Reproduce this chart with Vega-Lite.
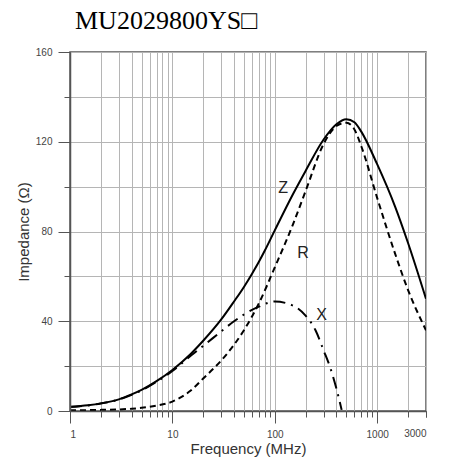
{
  "$schema": "https://vega.github.io/schema/vega-lite/v6.json",
  "width": 356,
  "height": 359,
  "autosize": "none",
  "padding": {"left": 70, "top": 52, "right": 23, "bottom": 52},
  "background": "white",
  "title": {"text": "MU2029800YS□", "font": "Liberation Serif", "fontSize": 26, "fontWeight": "normal", "color": "black", "anchor": "start", "dx": 5, "offset": 13, "frame": "group"},
  "config": {"view": {"stroke": "#555", "strokeWidth": 1.5}},
  "datasets": {
    "curves": [
      {"f": 1, "v": 1.9, "s": "Z"}, {"f": 1.5, "v": 2.6, "s": "Z"}, {"f": 2, "v": 3.4, "s": "Z"}, {"f": 3, "v": 5.2, "s": "Z"}, {"f": 4, "v": 7.4, "s": "Z"}, {"f": 5, "v": 9.4, "s": "Z"}, {"f": 7, "v": 13.3, "s": "Z"}, {"f": 10, "v": 18.3, "s": "Z"}, {"f": 15, "v": 25.3, "s": "Z"}, {"f": 20, "v": 31.3, "s": "Z"}, {"f": 30, "v": 40.8, "s": "Z"}, {"f": 40, "v": 48.8, "s": "Z"}, {"f": 50, "v": 55.3, "s": "Z"}, {"f": 60, "v": 61.2, "s": "Z"}, {"f": 70, "v": 66.5, "s": "Z"}, {"f": 80, "v": 71.5, "s": "Z"}, {"f": 100, "v": 80.5, "s": "Z"}, {"f": 150, "v": 96.5, "s": "Z"}, {"f": 200, "v": 107, "s": "Z"}, {"f": 300, "v": 121, "s": "Z"}, {"f": 400, "v": 127.8, "s": "Z"}, {"f": 500, "v": 130, "s": "Z"}, {"f": 600, "v": 128.7, "s": "Z"}, {"f": 700, "v": 124.5, "s": "Z"}, {"f": 1000, "v": 110, "s": "Z"}, {"f": 1500, "v": 91, "s": "Z"}, {"f": 2000, "v": 75, "s": "Z"}, {"f": 3000, "v": 50, "s": "Z"},
      {"f": 1, "v": 0.3, "s": "R"}, {"f": 2, "v": 0.5, "s": "R"}, {"f": 3, "v": 0.7, "s": "R"}, {"f": 4, "v": 1.0, "s": "R"}, {"f": 5, "v": 1.4, "s": "R"}, {"f": 7, "v": 2.4, "s": "R"}, {"f": 10, "v": 4.2, "s": "R"}, {"f": 15, "v": 9.0, "s": "R"}, {"f": 20, "v": 14.5, "s": "R"}, {"f": 30, "v": 22.5, "s": "R"}, {"f": 40, "v": 29.5, "s": "R"}, {"f": 50, "v": 36, "s": "R"}, {"f": 70, "v": 48, "s": "R"}, {"f": 100, "v": 64, "s": "R"}, {"f": 150, "v": 83, "s": "R"}, {"f": 200, "v": 98, "s": "R"}, {"f": 300, "v": 119, "s": "R"}, {"f": 400, "v": 127, "s": "R"}, {"f": 500, "v": 128.5, "s": "R"}, {"f": 600, "v": 125.5, "s": "R"}, {"f": 700, "v": 118, "s": "R"}, {"f": 1000, "v": 95, "s": "R"}, {"f": 1500, "v": 70, "s": "R"}, {"f": 2000, "v": 54, "s": "R"}, {"f": 3000, "v": 36, "s": "R"},
      {"f": 1, "v": 1.8, "s": "X"}, {"f": 1.5, "v": 2.5, "s": "X"}, {"f": 2, "v": 3.3, "s": "X"}, {"f": 3, "v": 5.1, "s": "X"}, {"f": 4, "v": 7.2, "s": "X"}, {"f": 5, "v": 9.2, "s": "X"}, {"f": 7, "v": 13, "s": "X"}, {"f": 10, "v": 17.8, "s": "X"}, {"f": 15, "v": 24.5, "s": "X"}, {"f": 20, "v": 29, "s": "X"}, {"f": 30, "v": 35.5, "s": "X"}, {"f": 40, "v": 40, "s": "X"}, {"f": 50, "v": 43, "s": "X"}, {"f": 70, "v": 46.5, "s": "X"}, {"f": 100, "v": 48.8, "s": "X"}, {"f": 150, "v": 47, "s": "X"}, {"f": 200, "v": 42.5, "s": "X"}, {"f": 250, "v": 36, "s": "X"}, {"f": 300, "v": 27, "s": "X"}, {"f": 350, "v": 19, "s": "X"}, {"f": 400, "v": 10, "s": "X"}, {"f": 450, "v": 0.5, "s": "X"}
    ],
    "labels": [
      {"f": 120.6, "v": 99.5, "t": "Z"},
      {"f": 189, "v": 70.3, "t": "R"},
      {"f": 287, "v": 42.8, "t": "X"}
    ]
  },
  "resolve": {"axis": {"x": "independent", "y": "independent"}},
  "layer": [
    {
      "data": {"name": "curves"},
      "transform": [{"filter": "datum.s == 'Z'"}],
      "mark": {"type": "line", "color": "black", "strokeWidth": 2, "interpolate": "monotone", "clip": true},
      "encoding": {
        "x": {"field": "f", "type": "quantitative", "scale": {"type": "log", "domain": [1, 3000], "nice": false},
          "axis": {"orient": "bottom", "values": [1, 2, 3, 4, 5, 6, 7, 8, 9, 10, 20, 30, 40, 50, 60, 70, 80, 90, 100, 200, 300, 400, 500, 600, 700, 800, 900, 1000, 2000, 3000],
            "grid": true, "gridColor": "#b5b5b5", "gridWidth": 1, "tickSize": 6, "tickColor": "#555", "labels": false, "domain": false, "title": null, "zindex": 0}},
        "y": {"field": "v", "type": "quantitative", "scale": {"domain": [0, 160], "nice": false},
          "axis": {"orient": "left", "values": [0, 20, 40, 60, 80, 100, 120, 140, 160], "grid": true, "gridColor": "#b5b5b5", "gridWidth": 1, "tickSize": 6, "tickColor": "#555", "labels": false, "domain": false, "title": null, "zindex": 0}}
      }
    },
    {
      "data": {"name": "curves"},
      "transform": [{"filter": "datum.s == 'R'"}],
      "mark": {"type": "line", "color": "black", "strokeWidth": 2, "strokeDash": [6, 4], "interpolate": "monotone", "clip": true},
      "encoding": {
        "x": {"field": "f", "type": "quantitative",
          "axis": {"orient": "bottom", "values": [1, 10, 100, 1000, 3000], "format": "d", "grid": false,
            "tickSize": {"condition": {"test": "datum.value == 3000", "value": 6}, "value": 12},
            "labelPadding": {"condition": {"test": "datum.value == 3000", "value": 11}, "value": 6},
            "tickColor": "#555", "domainColor": "#555", "domainWidth": 1.5, "labelFont": "Liberation Sans", "labelFontSize": 10, "labelColor": "#444",
            "title": "Frequency (MHz)", "titleFont": "Liberation Sans", "titleFontSize": 15, "titleFontWeight": "normal", "titleColor": "#333", "titlePadding": 2, "zindex": 1}},
        "y": {"field": "v", "type": "quantitative",
          "axis": {"orient": "left", "values": [0, 40, 80, 120, 160], "grid": false, "tickSize": 12, "tickColor": "#555", "domainColor": "#555", "domainWidth": 1.5,
            "labelFont": "Liberation Sans", "labelFontSize": 10, "labelColor": "#444", "labelPadding": 6,
            "title": "Impedance (Ω)", "titleFont": "Liberation Sans", "titleFontSize": 15, "titleFontWeight": "normal", "titleColor": "#333", "titlePadding": 4, "zindex": 1}}
      }
    },
    {
      "data": {"name": "curves"},
      "transform": [{"filter": "datum.s == 'X'"}],
      "mark": {"type": "line", "color": "black", "strokeWidth": 2, "strokeDash": [12, 6, 2, 6], "interpolate": "monotone", "clip": true},
      "encoding": {
        "x": {"field": "f", "type": "quantitative", "axis": null},
        "y": {"field": "v", "type": "quantitative", "axis": null}
      }
    },
    {
      "data": {"name": "labels"},
      "mark": {"type": "text", "font": "Liberation Sans", "fontSize": 16, "color": "#222", "align": "center", "baseline": "middle"},
      "encoding": {
        "x": {"field": "f", "type": "quantitative", "axis": null},
        "y": {"field": "v", "type": "quantitative", "axis": null},
        "text": {"field": "t"}
      }
    }
  ]
}
